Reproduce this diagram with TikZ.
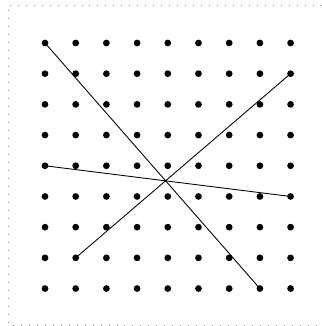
\documentclass[tikz,border=0pt]{standalone}
\usepackage{tikz}

\begin{document}
\begin{tikzpicture}[
    pin/.style={circle, fill=black, inner sep=0pt, minimum size=0.22cm},
    band/.style={line width=0.8pt},
    frame/.style={gray, line width=0.5pt, dash pattern=on 0.8pt off 6.6pt}
]
\useasboundingbox (-1.466,1.40) rectangle (9.02,-9.22);
%% -- border
\draw[frame] (9.02,1.238) -- (-1.205,1.238) -- (-1.205,-9.19) -- (9.02,-9.19);

%% -- geoboard pins
\foreach \c in {0,...,8}
  \foreach \r in {0,...,8}
    \node[pin] (p-\c-\r) at (\c,-\r) {};

%% -- rubber bands
\draw[band] (p-0-0.center) -- (p-7-8.center);
\draw[band] (p-8-1.center) -- (p-1-7.center);
\draw[band] (p-0-4.center) -- (p-8-5.center);
\end{tikzpicture}
\end{document}
